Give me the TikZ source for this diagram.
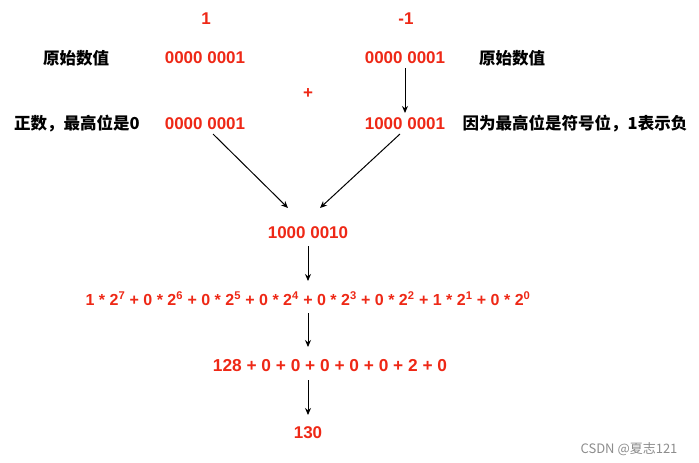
\documentclass[tikz,border=0pt]{standalone}
\usepackage{fontspec}
\setmainfont{Liberation Sans}
\newfontfamily\cjk{Noto Sans CJK SC}
\usetikzlibrary{arrows.meta}
\definecolor{numred}{RGB}{238,40,22}
\definecolor{wm}{RGB}{140,140,140}
\tikzset{
  num/.style={text=numred,font=\fontsize{17}{20}\selectfont\bfseries,inner sep=0pt},
  eq/.style={text=numred,font=\fontsize{16}{20}\selectfont\bfseries,inner sep=0pt},
  lbl/.style={text=black,font=\cjk\fontsize{16.5}{20}\selectfont\bfseries,inner sep=0pt},
  arr/.style={draw=black,line width=1pt,-{Stealth[length=7pt,width=6pt]}},
}
\begin{document}
\begin{tikzpicture}[x=1pt,y=-1pt]
\useasboundingbox (0,0) rectangle (699,463);
\node[num] (one) at (206,19) {1};
\node[num] (mone) at (406,19) {-1};
\node[lbl] (origL) at (76,58) {原始数值};
\node[num] (aorig) at (205,58) {0000 0001};
\node[num] (borig) at (405,58) {0000 0001};
\node[lbl] (origR) at (512,58) {原始数值};
\node[num] (plus) at (308,94) {+};
\node[lbl] (posL) at (77,124) {正数，最高位是0};
\node[num] (acode) at (205,124) {0000 0001};
\node[num] (bcode) at (405,124) {1000 0001};
\node[lbl] (negR) at (575,124) {因为最高位是符号位，1表示负};
\node[num] (sum) at (308,233) {1000 0010};
\node[eq] (expand) at (308,299) {1 * 2\textsuperscript{7} + 0 * 2\textsuperscript{6} + 0 * 2\textsuperscript{5} + 0 * 2\textsuperscript{4} + 0 * 2\textsuperscript{3} + 0 * 2\textsuperscript{2} + 1 * 2\textsuperscript{1} + 0 * 2\textsuperscript{0}};
\node[eq,font=\fontsize{17.3}{20}\selectfont\bfseries] (terms) at (330,366) {128 + 0 + 0 + 0 + 0 + 0 + 2 + 0};
\node[num] (res) at (308,433) {130};
\node[text=wm,font=\cjk\fontsize{13}{15}\selectfont,inner sep=0pt] (mark) at (629,449) {CSDN @夏志121};
\coordinate (a1) at (213,134);
\coordinate (a2) at (288,208);
\coordinate (b1) at (400,134);
\coordinate (b2) at (320,208);
\draw[arr] (borig.south) ++(0,4) coordinate (bs) (bs) -- (405,113);
\draw[arr] (a1) -- (a2);
\draw[arr] (b1) -- (b2);
\draw[arr] (308,246) -- (308,281);
\draw[arr] (308,313) -- (308,347);
\draw[arr] (308,380) -- (308,415);
\end{tikzpicture}
\end{document}
